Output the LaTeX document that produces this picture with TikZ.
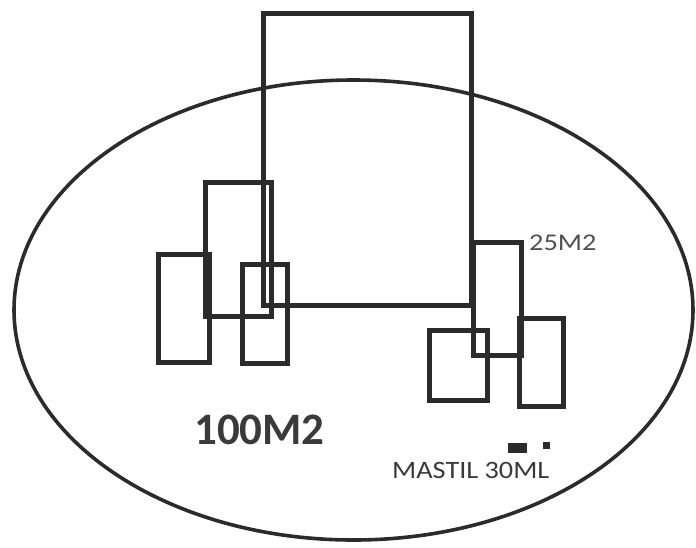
\documentclass[tikz,border=0pt]{standalone}
\usepackage{fontspec}
\setmainfont{Carlito}
\definecolor{ink}{HTML}{2B2B2B}
\definecolor{txt}{HTML}{3A3A3A}
\definecolor{txtl}{HTML}{505050}
\begin{document}
\begin{tikzpicture}[x=1pt,y=-1pt,
  room/.style={draw=ink,line width=5pt,line join=miter},
  plot/.style={draw=ink,line width=3.6pt},
  lbl/.style={inner sep=0pt,text=txt}]
\useasboundingbox (0,0) rectangle (696,547);
% outer plot
\draw[plot] (353.5,310) ellipse [x radius=339.5,y radius=230];
% main building
\draw[room] (263,13) rectangle (471,305);
% left group
\draw[room] (205,182) rectangle (271,316);
\draw[room] (158,254) rectangle (209,362);
\draw[room] (242,264) rectangle (287,363);
% right group
\draw[room] (473,242) rectangle (521,355);
\draw[room] (429,330) rectangle (487,400);
\draw[room] (519,318) rectangle (563,406);
% mast
\fill[ink] (508,443) rectangle (527,453);
\fill[ink] (543,442) rectangle (550,449);
% labels
\node[lbl,anchor=base west,font=\bfseries\fontsize{45}{45}\selectfont] (big) at (194,444) {100M2};
\node[lbl,anchor=base west,text=txtl,font=\fontsize{24}{24}\selectfont,xscale=1.18] (small) at (529,250) {25M2};
\node[lbl,anchor=base west,font=\fontsize{25}{25}\selectfont,xscale=1.13] (mast) at (392,478) {MASTIL 30ML};
\end{tikzpicture}
\end{document}
